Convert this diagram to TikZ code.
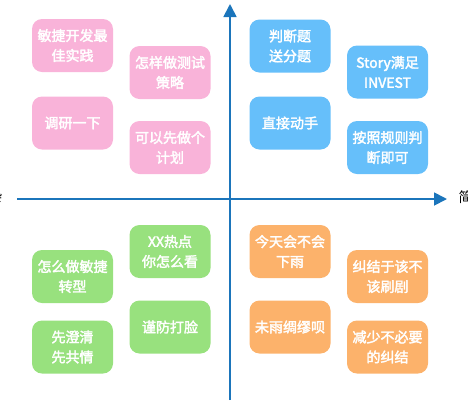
\documentclass[tikz,border=0pt]{standalone}
\usepackage{fontspec}
\setmainfont{Noto Sans CJK SC}[AutoFakeBold=2.5]
\usetikzlibrary{arrows.meta}
\definecolor{pinkq}{HTML}{F9B3D9}
\definecolor{blueq}{HTML}{66BFFA}
\definecolor{greenq}{HTML}{98E17E}
\definecolor{orangeq}{HTML}{FCB26B}
\definecolor{axisblue}{HTML}{1B75BB}

\begin{document}
\begin{tikzpicture}[x=1pt, y=-1pt,
    card/.style={rounded corners=10pt, minimum width=81pt, minimum height=53pt, inner sep=2pt,
      align=center, text=white, font=\fontsize{14}{20}\selectfont\bfseries},
    pinkcard/.style={card, fill=pinkq},
    bluecard/.style={card, fill=blueq},
    greencard/.style={card, fill=greenq},
    orangecard/.style={card, fill=orangeq},
    axis/.style={axisblue, line width=1.8pt, -{Triangle[length=13pt, width=13pt]}},
    axislabel/.style={font=\fontsize{14}{16}\selectfont}]
  \useasboundingbox (0,0) rectangle (468,400);
  % axes
  \coordinate (xfrom) at (17,199);
  \coordinate (xto) at (447,199);
  \coordinate (yfrom) at (230,400);
  \coordinate (yto) at (230,4);
  \draw[axis] (xfrom) -- (xto);
  \draw[axis] (yfrom) -- (yto);
  \node[axislabel, anchor=east] (complex) at (6,197) {复杂};
  \node[axislabel, anchor=west] (simple) at (455,197) {简单};
  % top left
  \node[pinkcard] (best) at (72.5,45.5) {敏捷开发最\\佳实践};
  \node[pinkcard] (strategy) at (170,72.5) {怎样做测试\\策略};
  \node[pinkcard] (survey) at (72.5,123) {调研一下};
  \node[pinkcard] (plan) at (170,147.5) {可以先做个\\计划};
  % top right
  \node[bluecard] (easy) at (290,46) {判断题\\送分题};
  \node[bluecard] (story) at (387.5,72) {Story满足\\INVEST};
  \node[bluecard] (doit) at (290,123) {直接动手};
  \node[bluecard] (rules) at (387.5,147.5) {按照规则判\\断即可};
  % bottom left
  \node[greencard] (hot) at (170,251.5) {XX热点\\你怎么看};
  \node[greencard] (agile) at (72.5,276.5) {怎么做敏捷\\转型};
  \node[greencard] (face) at (170,327) {谨防打脸};
  \node[greencard] (clarify) at (72.5,347) {先澄清\\先共情};
  % bottom right
  \node[orangecard] (rain) at (290,251.5) {今天会不会\\下雨};
  \node[orangecard] (drama) at (387.5,276.5) {纠结于该不\\该刷剧};
  \node[orangecard] (prepare) at (290,327) {未雨绸缪呗};
  \node[orangecard] (less) at (387.5,347) {减少不必要\\的纠结};
\end{tikzpicture}
\end{document}
